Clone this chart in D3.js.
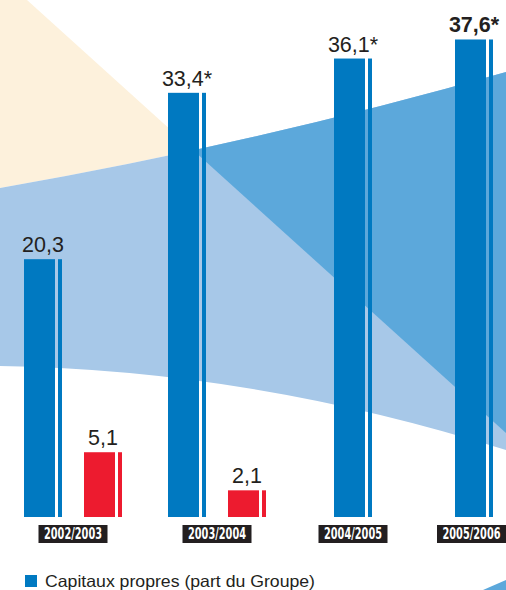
<!DOCTYPE html>
<html>
<head>
<meta charset="utf-8">
<script src="https://cdn.jsdelivr.net/npm/d3@7"></script>
<style>
  body { margin: 0; background: #fff; }
  svg { display: block; }
  .value { font-family: "Liberation Sans", Arial, sans-serif; font-size: 21.5px; fill: #231f20; }
  .year { font-family: "Liberation Sans Narrow", "DejaVu Sans Condensed", "Liberation Sans", sans-serif; font-weight: bold; font-size: 15.5px; fill: #fff; }
  .legend { font-family: "Liberation Sans", Arial, sans-serif; font-size: 16.5px; fill: #231f20; }
</style>
</head>
<body>
<svg id="chart" width="506" height="590"></svg>
<script>
// data
const years = ["2002/2003", "2003/2004", "2004/2005", "2005/2006"];
const capitaux = [20.3, 33.4, 36.1, 37.6];
const capitauxStar = [false, true, true, true];
const resultat = [5.1, 2.1, null, null];
const legendLabels = ["Capitaux propres (part du Groupe)"];

const svg = d3.select("svg#chart");
const width = +svg.attr("width");
const height = +svg.attr("height");

const baseline = 517;
const barW = 31;
const stripeGap = 3;
const stripeW = 4;
const redOffset = 60;
const boxW = 69;
const yearTextW = 58;

const y = d3.scaleLinear().domain([0, 40]).range([baseline, baseline - 40 * 12.7]);
// group left edges, the original spacing is not regular
const x = d3.scaleOrdinal().domain(years).range([24, 168, 334, 455]);

const fmt = v => d3.format(".1f")(v).replace(".", ",");

// background swooshes
const bg = svg.append("g").attr("class", "background");
const defs = svg.append("defs");

const diagSlope = 0.904, diagX0 = 27;
const diagY = xx => (xx - diagX0) * diagSlope;
const bandPath = "M0,188 Q253,144 506,72 L506,450 Q253,370 0,366 Z";

defs.append("clipPath").attr("id", "leftDiag")
    .append("path")
    .attr("d", `M0,0 L${diagX0},0 L${width},${diagY(width)} L${width},${height} L0,${height} Z`);
defs.append("clipPath").attr("id", "rightDiag")
    .append("path")
    .attr("d", `M${diagX0},0 L${width},0 L${width},${diagY(width)} Z`);

// beige: above the top curve, left of the diagonal
bg.append("path")
    .attr("d", `M0,0 L${width},0 L${width},72 Q253,144 0,188 Z`)
    .attr("fill", "#fdf1dc")
    .attr("clip-path", "url(#leftDiag)");

// light blue band
bg.append("path")
    .attr("d", bandPath)
    .attr("fill", "#a7c8e8");

// medium blue part of the band
bg.append("path")
    .attr("d", bandPath)
    .attr("fill", "#5ca8db")
    .attr("clip-path", "url(#rightDiag)");

bg.append("path")
    .attr("d", `M483,${height} L${width},580 L${width},${height} Z`)
    .attr("fill", "#5ca8db");

// bars
const bars = svg.append("g").attr("class", "bars");
const groups = bars.selectAll("g.group")
    .data(years.map((yr, i) => ({year: yr, cap: capitaux[i], star: capitauxStar[i], res: resultat[i]})))
    .join("g").attr("class", "group");

groups.append("rect")
    .attr("x", d => x(d.year))
    .attr("y", d => y(d.cap))
    .attr("width", barW)
    .attr("height", d => baseline - y(d.cap))
    .attr("fill", "#0079c1");
groups.append("rect")
    .attr("x", d => x(d.year) + barW + stripeGap)
    .attr("y", d => y(d.cap))
    .attr("width", stripeW)
    .attr("height", d => baseline - y(d.cap))
    .attr("fill", "#0079c1");
groups.append("text").attr("class", "value")
    .attr("x", d => x(d.year) + (barW + stripeGap + stripeW) / 2)
    .attr("y", d => y(d.cap) - 7)
    .attr("text-anchor", "middle")
    .attr("font-weight", (d, i) => i === years.length - 1 ? "bold" : "normal")
    .text(d => fmt(d.cap) + (d.star ? "*" : ""));

const reds = groups.filter(d => d.res != null);
reds.append("rect")
    .attr("x", d => x(d.year) + redOffset)
    .attr("y", d => y(d.res))
    .attr("width", barW)
    .attr("height", d => baseline - y(d.res))
    .attr("fill", "#ed1b2f");
reds.append("rect")
    .attr("x", d => x(d.year) + redOffset + barW + stripeGap)
    .attr("y", d => y(d.res))
    .attr("width", stripeW)
    .attr("height", d => baseline - y(d.res))
    .attr("fill", "#ed1b2f");
reds.append("text").attr("class", "value")
    .attr("x", d => x(d.year) + redOffset + (barW + stripeGap + stripeW) / 2)
    .attr("y", d => y(d.res) - 7)
    .attr("text-anchor", "middle")
    .text(d => fmt(d.res));

// year labels in black boxes (last one kept inside the frame)
const groupCenter = d => {
    const right = d.res != null ? x(d.year) + redOffset + barW + stripeGap + stripeW
                                : x(d.year) + barW + stripeGap + stripeW;
    return Math.min((x(d.year) + right) / 2, width - boxW / 2);
};
groups.append("rect")
    .attr("x", d => groupCenter(d) - boxW / 2)
    .attr("y", baseline + 8)
    .attr("width", boxW)
    .attr("height", 18)
    .attr("fill", "#231f20");
groups.append("text").attr("class", "year")
    .attr("text-anchor", "middle")
    .text(d => d.year)
    .attr("transform", function(d) {
        const w = this.getComputedTextLength();
        const sx = w > yearTextW ? yearTextW / w : 1;
        return `translate(${groupCenter(d)},${baseline + 22}) scale(${sx},1)`;
    });

// legend
const legend = svg.append("g").attr("class", "legend-g");
legend.selectAll("rect").data(legendLabels).join("rect")
    .attr("x", 25).attr("y", 575)
    .attr("width", 12).attr("height", 12)
    .attr("fill", "#0079c1");
legend.selectAll("text").data(legendLabels).join("text")
    .attr("class", "legend")
    .attr("x", 45).attr("y", 587)
    .attr("textLength", 270)
    .attr("lengthAdjust", "spacingAndGlyphs")
    .text(d => d);
</script>
</body>
</html>
